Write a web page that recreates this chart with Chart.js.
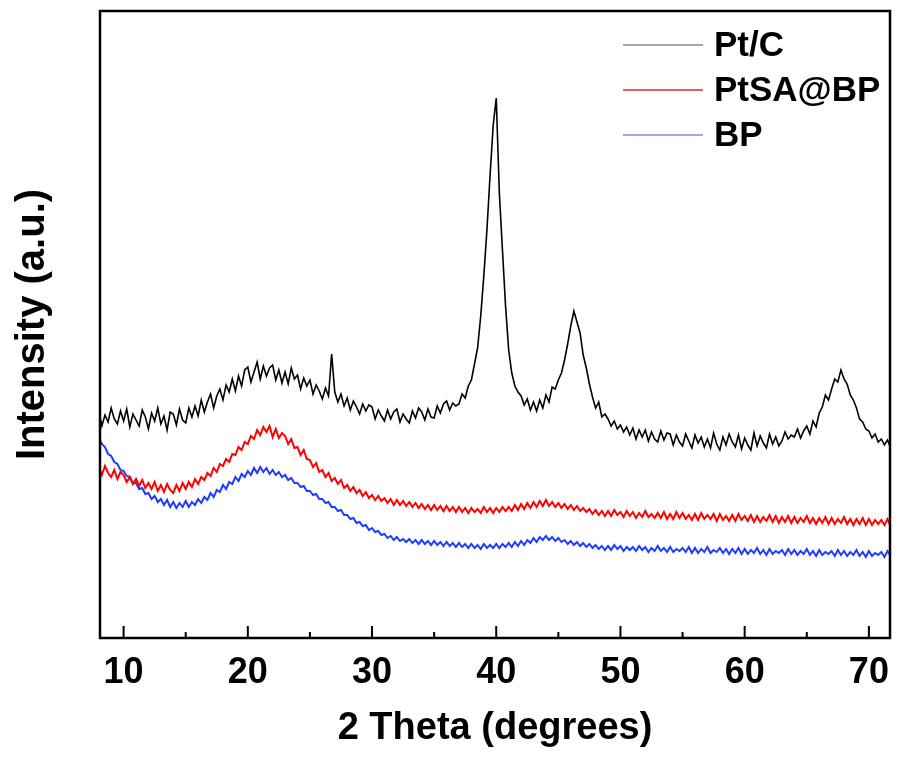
<!DOCTYPE html>
<html>
<head>
<meta charset="utf-8">
<script src="https://cdn.jsdelivr.net/npm/chart.js@4.4.0/dist/chart.umd.min.js"></script>
<style>
  html, body { margin: 0; padding: 0; background: #fff; }
  #xrd { display: block; }
</style>
</head>
<body>
<canvas id="xrd" width="898" height="759"></canvas>
<script>
// 2 theta grid of the scan (degrees)
const thetaStart = 8;
const thetaStep = 0.25;

const seriesNames = ["Pt/C", "PtSA@BP", "BP"];
const seriesColors = ["#000000", "#ff0000", "#1e3cff"];
const legendColors = ["#8a8a8a", "#c83030", "#8090d0"];

const xTicks = [10, 20, 30, 40, 50, 60, 70];
const xMinorTicks = [15, 25, 35, 45, 55, 65];

// intensities (a.u.), one value per 0.25 degree from 8 to 72
const ptC = [
  226, 212, 223, 216, 230, 219, 214, 227, 217, 229, 211, 224, 218, 212, 228, 221,
  209, 225, 217, 230, 214, 222, 208, 226, 224, 213, 229, 218, 215, 230, 221, 232,
  222, 238, 226, 236, 244, 230, 242, 249, 238, 253, 246, 259, 247, 262, 252, 268,
  271, 256, 266, 276, 259, 272, 262, 270, 273, 258, 268, 255, 266, 254, 270, 259,
  263, 249, 260, 252, 258, 244, 253, 247, 239, 250, 242, 284, 246, 236, 244, 232,
  240, 228, 237, 231, 224, 234, 227, 233, 231, 219, 228, 222, 217, 228, 219, 226,
  229, 216, 224, 219, 215, 227, 220, 230, 226, 218, 229, 221, 220, 232, 225, 234,
  237, 228, 235, 232, 234, 244, 240, 252, 258, 274, 290, 322, 362, 408, 462, 512,
  540, 445, 388, 332, 288, 265, 252, 246, 242, 233, 239, 228, 236, 227, 238, 230,
  243, 236, 251, 249, 258, 265, 278, 294, 312, 327, 316, 305, 283, 270, 254, 241,
  230, 236, 221, 224, 219, 212, 217, 209, 213, 206, 211, 203, 210, 199, 208, 201,
  208, 197, 206, 199, 196, 207, 198, 205, 204, 193, 203, 196, 192, 204, 197, 190,
  203, 195, 201, 191, 199, 190, 205, 194, 188, 201, 193, 204, 196, 191, 203, 189,
  200, 193, 188, 205, 192, 202, 195, 190, 204, 194, 201, 192, 197, 206, 199, 203,
  201, 209, 200, 207, 212, 204, 217, 211, 225, 231, 243, 238, 249, 259, 256, 268,
  259, 254, 243, 238, 230, 219, 216, 209, 207, 200, 204, 196, 199, 193, 198, 190,
  192
];

const ptSA = [
  170, 163, 172, 165, 161, 168, 159, 166, 163, 156, 161, 154, 159, 152, 158, 150,
  155, 149, 156, 147, 153, 146, 154, 148, 145, 153, 147, 155, 149, 156, 151, 159,
  154, 161, 158, 165, 162, 170, 166, 174, 172, 179, 176, 184, 183, 191, 188, 196,
  194, 202, 199, 208, 203, 211, 206, 212, 201, 209, 200, 205, 202, 194, 199, 190,
  191, 183, 188, 179, 178, 171, 175, 166, 168, 161, 165, 157, 160, 154, 158, 150,
  153, 147, 151, 145, 148, 142, 146, 140, 143, 138, 142, 137, 140, 135, 139, 133,
  138, 133, 137, 132, 136, 131, 135, 130, 134, 129, 133, 128, 133, 128, 132, 127,
  132, 127, 131, 126, 131, 126, 130, 125, 130, 126, 129, 125, 131, 126, 130, 125,
  130, 126, 131, 127, 131, 127, 133, 128, 134, 129, 135, 130, 136, 131, 137, 132,
  138, 132, 136, 131, 135, 130, 134, 129, 133, 128, 132, 127, 130, 126, 129, 124,
  128, 123, 127, 122, 127, 122, 128, 123, 126, 121, 127, 122, 126, 120, 125, 121,
  127, 121, 124, 120, 125, 120, 126, 119, 124, 119, 126, 120, 125, 119, 123, 118,
  124, 118, 125, 119, 123, 119, 124, 117, 124, 118, 122, 117, 123, 117, 124, 118,
  122, 117, 123, 116, 122, 116, 121, 117, 123, 116, 122, 115, 121, 116, 122, 115,
  121, 115, 120, 116, 122, 115, 120, 114, 120, 115, 121, 114, 120, 114, 119, 115,
  121, 114, 119, 113, 119, 114, 120, 113, 119, 113, 118, 114, 118, 113, 119, 112,
  117
];

const bp = [
  200, 194, 191, 184, 182, 176, 174, 168, 167, 162, 161, 155, 155, 149, 150, 144,
  145, 139, 142, 136, 139, 133, 138, 131, 136, 130, 135, 131, 137, 131, 136, 133,
  139, 135, 141, 138, 145, 141, 148, 146, 153, 149, 156, 154, 161, 157, 164, 161,
  167, 163, 170, 165, 171, 166, 170, 164, 168, 163, 166, 161, 163, 158, 160, 155,
  155, 151, 152, 147, 147, 143, 144, 139, 139, 135, 136, 131, 131, 127, 128, 123,
  123, 119, 120, 115, 116, 112, 113, 108, 110, 106, 107, 103, 104, 100, 102, 98,
  101, 97, 99, 96, 99, 95, 98, 94, 98, 94, 97, 93, 97, 93, 96, 92,
  96, 92, 95, 91, 95, 91, 94, 90, 94, 90, 93, 89, 94, 90, 93, 90,
  94, 90, 94, 91, 95, 91, 96, 92, 97, 93, 98, 95, 100, 96, 101, 98,
  102, 98, 101, 97, 100, 96, 98, 94, 97, 93, 96, 92, 95, 91, 94, 90,
  93, 89, 92, 88, 92, 88, 93, 89, 92, 87, 91, 88, 91, 87, 92, 88,
  91, 86, 90, 87, 92, 87, 90, 86, 91, 86, 89, 87, 90, 86, 91, 85,
  90, 85, 89, 86, 91, 85, 88, 86, 90, 85, 89, 84, 89, 85, 90, 84,
  89, 84, 88, 85, 90, 84, 88, 83, 89, 84, 87, 85, 88, 83, 89, 84,
  88, 83, 87, 84, 89, 83, 87, 82, 88, 83, 86, 84, 87, 82, 88, 83,
  87, 82, 86, 83, 88, 82, 86, 81, 87, 82, 85, 83, 86, 81, 87, 82,
  86
];

const toPoints = vals => vals.map((v, i) => ({ x: thetaStart + i * thetaStep, y: v }));

const FONT = "'Liberation Sans', Arial, Helvetica, sans-serif";

// frame, inward ticks and the in-plot legend
const framePlugin = {
  id: "frame",
  afterDraw(chart) {
    const { ctx, chartArea: a, scales } = chart;
    const xs = scales.x;
    ctx.save();
    ctx.strokeStyle = "#000";
    ctx.lineWidth = 2.5;
    ctx.strokeRect(a.left, a.top, a.right - a.left, a.bottom - a.top);

    ctx.lineWidth = 2;
    ctx.beginPath();
    xTicks.forEach(v => {
      const px = xs.getPixelForValue(v);
      ctx.moveTo(px, a.bottom);
      ctx.lineTo(px, a.bottom - 12);
    });
    xMinorTicks.forEach(v => {
      const px = xs.getPixelForValue(v);
      ctx.moveTo(px, a.bottom);
      ctx.lineTo(px, a.bottom - 6);
    });
    ctx.stroke();

    // legend
    ctx.font = "bold 35px " + FONT;
    ctx.textBaseline = "middle";
    ctx.textAlign = "left";
    chart.data.datasets.forEach((ds, i) => {
      const y = 45 + i * 45;
      ctx.strokeStyle = legendColors[i];
      ctx.lineWidth = 1.5;
      ctx.beginPath();
      ctx.moveTo(623, y);
      ctx.lineTo(703, y);
      ctx.stroke();
      ctx.fillStyle = "#000";
      ctx.fillText(ds.label, 714, y + 1);
    });
    ctx.restore();
  }
};

const lineWidths = [1.6, 2, 2];

const datasets = [ptC, ptSA, bp].map((vals, i) => ({
  label: seriesNames[i],
  data: toPoints(vals),
  borderColor: seriesColors[i],
  borderWidth: lineWidths[i],
  pointRadius: 0,
  tension: 0,
  fill: false
}));

new Chart(document.getElementById("xrd"), {
  type: "line",
  data: { datasets },
  plugins: [framePlugin],
  options: {
    responsive: false,
    animation: false,
    layout: { padding: { top: 11, right: 8, left: 0, bottom: 0 } },
    plugins: { legend: { display: false }, tooltip: { enabled: false } },
    scales: {
      x: {
        type: "linear",
        min: 8.1,
        max: 71.7,
        grid: { display: false },
        border: { display: false },
        afterBuildTicks: s => { s.ticks = xTicks.map(v => ({ value: v })); },
        afterFit: s => { s.height = 121; },
        ticks: {
          color: "#000",
          padding: 5,
          maxRotation: 0,
          font: { family: FONT, size: 36, weight: "bold" }
        },
        title: {
          display: true,
          text: "2 Theta (degrees)",
          color: "#000",
          padding: { top: 0, bottom: 8 },
          font: { family: FONT, size: 38, weight: "bold" }
        }
      },
      y: {
        min: 0,
        max: 627,
        grid: { display: false },
        border: { display: false },
        ticks: { display: false },
        afterFit: s => { s.width = 100; },
        title: {
          display: true,
          text: "Intensity (a.u.)",
          color: "#000",
          padding: { top: 9, bottom: 0 },
          font: { family: FONT, size: 40, weight: "bold" }
        }
      }
    }
  }
});
</script>
</body>
</html>
